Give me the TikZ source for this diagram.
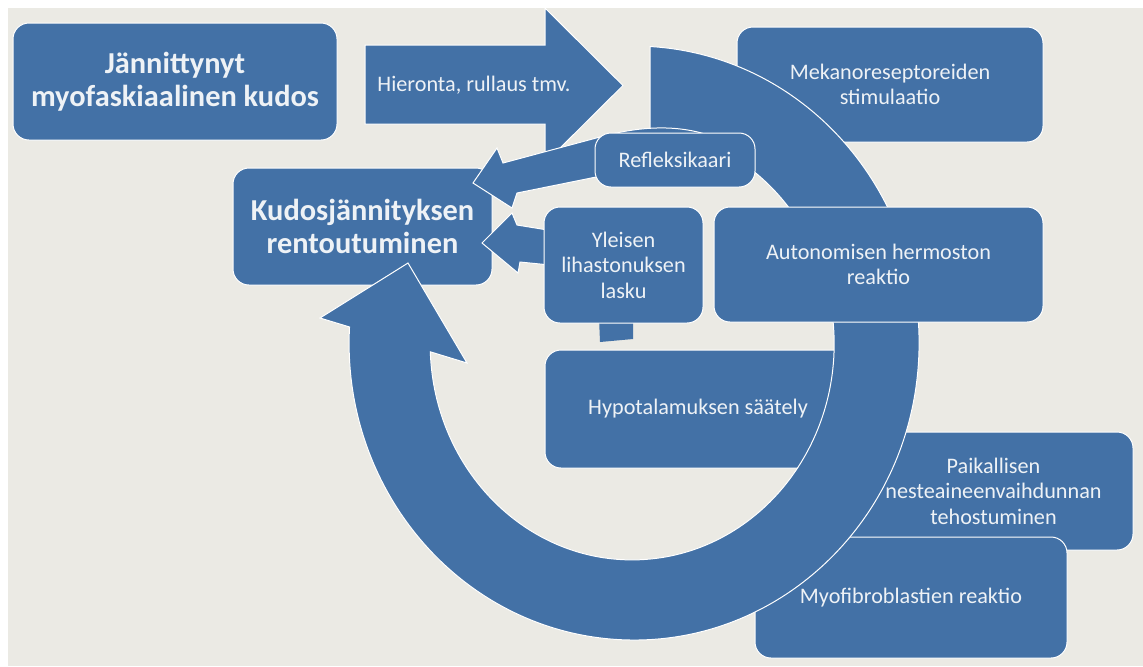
\documentclass[tikz,border=0pt]{standalone}
\usepackage{fontspec}
\setmainfont{Carlito}
\usepackage{tikz}
\definecolor{flowblue}{HTML}{4371A6}
\definecolor{flowpaper}{HTML}{EBEAE4}
\definecolor{flowtext}{HTML}{EEF2F6}

\begin{document}
\begin{tikzpicture}[x=0.5pt,y=-0.5pt,
  flowbox/.style={fill=flowblue,draw=white,line width=0.5pt,rounded corners=8pt,text=flowtext,align=center,inner sep=0pt},
  smalltxt/.style={font=\fontsize{11.1}{12.8}\selectfont},
  bigtxt/.style={font=\bfseries\fontsize{15.2}{16.5}\selectfont},
  blockarrow/.style={fill=flowblue,draw=white,line width=0.5pt}]
\useasboundingbox (0,0) rectangle (1143,666);
\fill[white] (0,0) rectangle (1143,666);
\fill[flowpaper] (8,8) rectangle (1143,666);
\draw[blockarrow] (365,45) -- (545,45) -- (545,8) -- (623,85.5) -- (545,163) -- (545,124) -- (365,124) -- cycle;
\node[smalltxt,text=flowtext] (hier) at (474,85) {Hieronta, rullaus tmv.};
\node[flowbox,bigtxt,minimum width=162pt,minimum height=58.5pt] (tense) at (175,81.5) {Jännittynyt\\myofaskiaalinen kudos};
\node[flowbox,smalltxt,minimum width=153pt,minimum height=57.5pt] (mech) at (890,84.5) {Mekanoreseptoreiden\\stimulaatio};
\node[flowbox,bigtxt,minimum width=129.5pt,minimum height=58.5pt] (relax) at (362.5,226.5) {Kudosjännityksen\\rentoutuminen};
\node[flowbox,smalltxt,minimum width=153pt,minimum height=59pt] (hypo) at (698,409) {Hypotalamuksen säätely};
\node[flowbox,minimum width=141.5pt,minimum height=59pt] (fluid) at (991.5,491) {};
\node[flowbox,smalltxt,minimum width=156pt,minimum height=60.5pt] (myo) at (911,597.5) {Myofibroblastien reaktio};
\draw[blockarrow] (650,46.5) arc[start angle=-86.8,end angle=183.1,x radius=285,y radius=297]
  -- (320,318) -- (408,263) -- (467,363) -- (430.3,351.8)
  arc[start angle=177.9,end angle=-84.9,x radius=202,y radius=216] -- cycle;
\node[smalltxt,text=flowtext,align=center] (fluidtxt) at ([xshift=1pt]fluid.center) {Paikallisen\\nesteaineenvaihdunnan\\tehostuminen};
\draw[blockarrow] (705,155) -- (517,193) -- (512,208) -- (473,183) -- (497,148) -- (503,163) -- (600,137) .. controls (640,126) and (675,125) .. (705,134) -- cycle;
\draw[blockarrow] (560,232) -- (517,225) -- (512,213) -- (482,243) -- (518,273) -- (520,262) -- (560,266) -- cycle;
\fill[flowblue] (599,318) -- (633,316) -- (633,339) -- (600,342) -- cycle;
\node[flowbox,smalltxt,minimum width=80pt,minimum height=27pt] (reflex) at (675,160) {Refleksikaari};
\node[flowbox,smalltxt,minimum width=79.5pt,minimum height=58pt] (tone) at (623.5,265) {Yleisen\\lihastonuksen\\lasku};
\node[flowbox,smalltxt,minimum width=164.5pt,minimum height=57.5pt] (auto) at (878.5,264.5) {Autonomisen hermoston\\reaktio};
\end{tikzpicture}
\end{document}
